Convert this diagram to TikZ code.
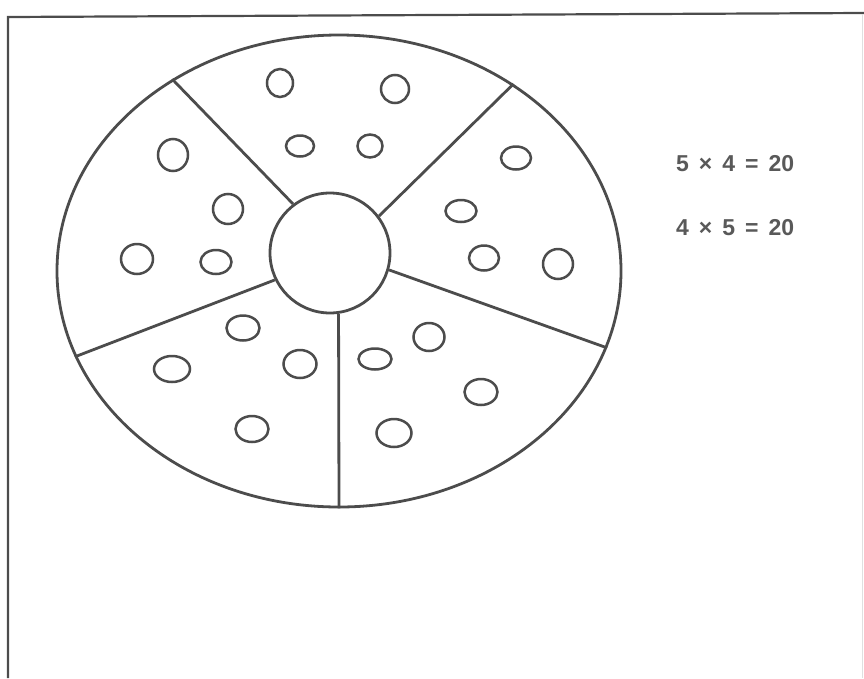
\documentclass[tikz,border=0pt]{standalone}
\usepackage{fontspec}
\setmainfont{Liberation Sans}
\usepackage{tikz}
\usepackage{xcolor}
\usetikzlibrary{shapes.geometric}

\tikzset{
  ink/.style={draw=black!70, line width=2.8pt},
  dot/.style={draw=black!70, line width=2.5pt},
  eqtext/.style={anchor=west, inner sep=0pt, text=black!65, font=\fontsize{23}{23}\selectfont\bfseries}
}
\newcommand{\gap}{\hspace{10pt}}

\begin{document}
\begin{tikzpicture}[x=1pt, y=-1pt]
\useasboundingbox (0,0) rectangle (864,678);
% frame
\draw[black!70, line width=2.2pt] (8,678) -- (8,17) -- (864,13);
\draw[black!12, line width=1pt] (862,14) -- (862,678);
% plate and hub
\node[ellipse, ink, minimum width=564pt, minimum height=472pt, inner sep=0pt] (rim) at (339,271) {};
\node[circle, ink, minimum size=120pt, inner sep=0pt] (hub) at (330,253) {};
% spokes
\draw[ink] (hub.127.3) -- (rim.131.8);
\draw[ink] (hub.37.2) -- (rim.47.7);
\draw[ink] (hub.-16.7) -- (rim.-16.6);
\draw[ink] (hub.206.1) -- (rim.198);
\draw[ink] (hub.-82.6) -- (rim.-90.2);
% dots
\foreach \cx/\cy/\rx/\ry in {280/83/13/14, 395/89/14/14, 300/146/14/10.5, 370/146/12.5/11.5,
  173/155/15/16, 228/209/15/15, 137/259/16/15, 216/262/15.5/12,
  516/158/15/11.5, 461/211/15.5/11, 484/258/15/12.5, 558/264/15/15,
  243/328/16.5/12.5, 172/369/18/13, 300/364/16.5/14, 252/429/16.5/13,
  429/337/15.5/14, 375/359/16.5/10.5, 481/392/16.5/13, 394/433/17.5/14}
  \draw[dot] (\cx,\cy) ellipse [x radius=\rx pt, y radius=\ry pt];
% sums
\node[eqtext] (eq1) at (676,164) {5\gap×\gap4\gap=\gap20};
\node[eqtext] (eq2) at (676,228) {4\gap×\gap5\gap=\gap20};
\end{tikzpicture}
\end{document}
